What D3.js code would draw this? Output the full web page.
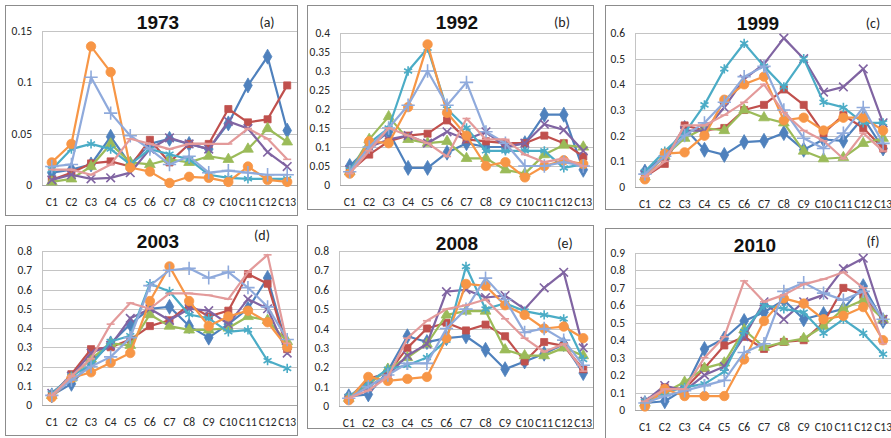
<!DOCTYPE html>
<html>
<head>
<meta charset="utf-8">
<script src="https://cdn.jsdelivr.net/npm/d3@7"></script>
<style>
  body { margin: 0; background: #fff; }
  svg { display: block; }
</style>
</head>
<body>
<svg id="chart" width="891" height="438"></svg>
<script>
// categories and panel labels
var cats = ["C1","C2","C3","C4","C5","C6","C7","C8","C9","C10","C11","C12","C13"];
var years = ["1973","1992","1999","2003","2008","2010"];
var letters = ["(a)","(b)","(c)","(d)","(e)","(f)"];
var yMax = [0.15, 0.4, 0.6, 0.8, 0.8, 0.9];
var yStep = [0.05, 0.05, 0.1, 0.1, 0.1, 0.1];

// series look (excel 2007 defaults)
var colors = ["#4F81BD","#C0504D","#9BBB59","#8064A2","#4BACC6","#F79646","#8FAADC","#E39A9A"];
var markers = ["diamond","square","triangle","x","asterisk","circle","plus","dash"];

// values, one row per series
var v1973 = [
  [0.012,0.015,0.02,0.047,0.02,0.04,0.045,0.04,0.035,0.06,0.097,0.125,0.053],
  [0.005,0.012,0.021,0.023,0.018,0.044,0.022,0.04,0.04,0.074,0.061,0.064,0.097],
  [0.003,0.006,0.018,0.04,0.022,0.02,0.025,0.022,0.028,0.025,0.035,0.055,0.042],
  [0.005,0.01,0.006,0.007,0.012,0.035,0.046,0.04,0.035,0.062,0.055,0.032,0.018],
  [0.015,0.035,0.04,0.035,0.02,0.035,0.03,0.025,0.01,0.007,0.006,0.006,0.006],
  [0.022,0.04,0.135,0.11,0.017,0.013,0.002,0.008,0.007,0.003,0.018,0.005,0.003],
  [0.018,0.02,0.105,0.07,0.048,0.035,0.02,0.028,0.012,0.014,0.012,0.01,0.01],
  [0.015,0.015,0.01,0.02,0.045,0.04,0.035,0.04,0.04,0.04,0.055,0.045,0.025]
];
var v1992 = [
  [0.05,0.1,0.14,0.045,0.045,0.085,0.11,0.1,0.1,0.11,0.185,0.185,0.04],
  [0.035,0.08,0.115,0.13,0.135,0.17,0.12,0.115,0.11,0.11,0.13,0.11,0.075],
  [0.035,0.12,0.18,0.12,0.11,0.115,0.07,0.07,0.04,0.03,0.08,0.105,0.1],
  [0.04,0.1,0.12,0.13,0.11,0.14,0.12,0.14,0.1,0.11,0.16,0.145,0.09],
  [0.04,0.11,0.15,0.3,0.36,0.2,0.15,0.09,0.09,0.09,0.09,0.045,0.055],
  [0.03,0.115,0.11,0.205,0.37,0.19,0.13,0.05,0.06,0.02,0.05,0.065,0.055],
  [0.035,0.1,0.15,0.21,0.3,0.21,0.27,0.14,0.11,0.05,0.05,0.06,0.05],
  [0.03,0.09,0.15,0.13,0.11,0.075,0.175,0.12,0.12,0.08,0.06,0.07,0.05]
];
var v1999 = [
  [0.06,0.12,0.23,0.145,0.125,0.175,0.18,0.21,0.145,0.185,0.18,0.27,0.15],
  [0.04,0.09,0.24,0.22,0.23,0.3,0.32,0.38,0.32,0.21,0.28,0.23,0.15],
  [0.04,0.12,0.19,0.23,0.22,0.3,0.27,0.25,0.14,0.11,0.115,0.17,0.19],
  [0.05,0.12,0.22,0.22,0.31,0.42,0.48,0.58,0.5,0.37,0.39,0.46,0.25],
  [0.06,0.14,0.21,0.32,0.46,0.56,0.47,0.39,0.5,0.33,0.31,0.25,0.25],
  [0.03,0.13,0.135,0.2,0.34,0.4,0.43,0.26,0.27,0.22,0.27,0.27,0.22],
  [0.05,0.12,0.2,0.25,0.33,0.43,0.47,0.3,0.19,0.15,0.21,0.31,0.17],
  [0.04,0.1,0.24,0.24,0.28,0.33,0.4,0.29,0.22,0.18,0.11,0.21,0.14]
];
var v2003 = [
  [0.05,0.11,0.22,0.32,0.42,0.5,0.51,0.41,0.35,0.42,0.5,0.66,0.3],
  [0.05,0.16,0.29,0.3,0.34,0.41,0.44,0.52,0.46,0.49,0.68,0.63,0.29],
  [0.05,0.14,0.24,0.32,0.31,0.47,0.41,0.39,0.39,0.4,0.46,0.44,0.33],
  [0.06,0.15,0.27,0.31,0.45,0.5,0.44,0.5,0.49,0.42,0.55,0.5,0.27],
  [0.06,0.15,0.21,0.33,0.36,0.63,0.59,0.47,0.45,0.38,0.39,0.23,0.19],
  [0.04,0.14,0.17,0.22,0.27,0.54,0.72,0.54,0.41,0.46,0.49,0.43,0.3],
  [0.05,0.13,0.2,0.25,0.35,0.62,0.7,0.71,0.66,0.69,0.61,0.51,0.34],
  [0.05,0.15,0.24,0.42,0.53,0.5,0.58,0.58,0.57,0.55,0.69,0.78,0.32]
];
var v2008 = [
  [0.05,0.06,0.18,0.36,0.33,0.35,0.36,0.29,0.19,0.23,0.27,0.32,0.17],
  [0.04,0.14,0.17,0.3,0.4,0.43,0.39,0.42,0.36,0.23,0.33,0.31,0.19],
  [0.04,0.11,0.19,0.25,0.32,0.47,0.49,0.49,0.29,0.26,0.26,0.3,0.26],
  [0.04,0.1,0.16,0.26,0.32,0.59,0.6,0.56,0.57,0.5,0.61,0.69,0.3],
  [0.05,0.12,0.19,0.21,0.25,0.34,0.72,0.5,0.53,0.49,0.47,0.45,0.24],
  [0.03,0.15,0.13,0.14,0.15,0.35,0.63,0.62,0.52,0.47,0.4,0.41,0.35],
  [0.04,0.1,0.16,0.22,0.22,0.4,0.5,0.66,0.55,0.38,0.4,0.34,0.21],
  [0.04,0.08,0.15,0.35,0.44,0.5,0.52,0.55,0.45,0.35,0.28,0.32,0.18]
];
var v2010 = [
  [0.04,0.05,0.12,0.35,0.41,0.51,0.56,0.63,0.52,0.55,0.58,0.71,0.51],
  [0.04,0.13,0.12,0.24,0.37,0.42,0.35,0.39,0.4,0.5,0.7,0.66,0.52],
  [0.04,0.1,0.16,0.24,0.27,0.46,0.36,0.39,0.41,0.48,0.58,0.63,0.52],
  [0.05,0.14,0.11,0.2,0.25,0.42,0.62,0.52,0.62,0.66,0.81,0.87,0.52],
  [0.05,0.1,0.13,0.15,0.22,0.45,0.6,0.58,0.56,0.44,0.52,0.44,0.32],
  [0.02,0.12,0.08,0.08,0.08,0.29,0.51,0.64,0.61,0.52,0.54,0.59,0.4],
  [0.04,0.08,0.11,0.14,0.17,0.33,0.38,0.68,0.73,0.67,0.63,0.68,0.52],
  [0.05,0.12,0.12,0.3,0.42,0.74,0.62,0.66,0.72,0.75,0.79,0.7,0.38]
];
var allValues = [v1973, v1992, v1999, v2003, v2008, v2010];

// where each panel sits on the page
var layout = [
  {box:[5,5,292,210],   plot:[42,31,297,185],   title:[158,29],  tag:[267,27]},
  {box:[307,5,286,204], plot:[340,33,593,185],  title:[457,29],  tag:[562,27]},
  {box:[605,5,300,204], plot:[635,33,893,187],  title:[758,30],  tag:[873,28]},
  {box:[5,225,292,210], plot:[42,251,297,405],  title:[158,248], tag:[262,240]},
  {box:[307,225,286,203], plot:[339,251,593,406], title:[457,250], tag:[565,248]},
  {box:[605,228,300,220], plot:[635,253,893,410], title:[755,252], tag:[873,246]}
];

var svg = d3.select("#chart");
var font = "Carlito, Lato, 'Open Sans', sans-serif";

function markerPath(kind) {
  var map = {
    diamond: [d3.symbolDiamond, 65],
    square: [d3.symbolSquare, 50],
    triangle: [d3.symbolTriangle, 50],
    x: [d3.symbolTimes, 50],
    asterisk: [d3.symbolAsterisk, 60],
    circle: [d3.symbolCircle, 70],
    plus: [d3.symbolPlus, 60]
  };
  if (kind == "dash") return "M-4,0H4";
  return d3.symbol().type(map[kind][0]).size(map[kind][1])();
}

years.forEach(function(year, p) {
  var L = layout[p];
  var g = svg.append("g");

  // panel frame
  g.append("rect")
    .attr("x", L.box[0] + 0.5).attr("y", L.box[1] + 0.5)
    .attr("width", L.box[2]).attr("height", L.box[3])
    .attr("fill", "#fff").attr("stroke", "#8c8c8c");

  var x = d3.scaleBand().domain(cats).range([L.plot[0], L.plot[2]]);
  var y = d3.scaleLinear().domain([0, yMax[p]]).range([L.plot[3], L.plot[1]]);
  var ticks = d3.range(0, yMax[p] + yStep[p] / 2, yStep[p]);

  // grid
  g.selectAll(".grid").data(ticks).enter().append("line")
    .attr("x1", L.plot[0]).attr("x2", L.plot[2])
    .attr("y1", function(d) { return Math.round(y(d)) + 0.5; })
    .attr("y2", function(d) { return Math.round(y(d)) + 0.5; })
    .attr("stroke", function(d) { return d == 0 ? "#a6a6a6" : "#c4c4c4"; })
    .attr("stroke-width", 1);
  g.append("line")
    .attr("x1", L.plot[0] + 0.5).attr("x2", L.plot[0] + 0.5)
    .attr("y1", L.plot[1]).attr("y2", L.plot[3])
    .attr("stroke", "#c4c4c4");

  // y labels
  g.selectAll(".ylab").data(ticks).enter().append("text")
    .attr("x", L.plot[0] - 10)
    .attr("y", function(d) { return y(d) + 4; })
    .attr("text-anchor", "end")
    .attr("font-family", font).attr("font-size", 11.5).attr("fill", "#262626")
    .text(function(d) { return String(+d.toFixed(2)); });

  // x labels
  g.selectAll(".xlab").data(cats).enter().append("text")
    .attr("x", function(d) { return x(d) + x.bandwidth() / 2; })
    .attr("y", L.plot[3] + 21)
    .attr("text-anchor", "middle")
    .attr("font-family", font).attr("font-size", 11.5).attr("fill", "#262626")
    .text(function(d) { return d; });

  // titles
  g.append("text")
    .attr("x", L.title[0]).attr("y", L.title[1])
    .attr("text-anchor", "middle")
    .attr("font-family", "'Liberation Sans', Arial, sans-serif")
    .attr("font-weight", "bold").attr("font-size", 19).attr("fill", "#111")
    .text(year);
  g.append("text")
    .attr("x", L.tag[0]).attr("y", L.tag[1])
    .attr("text-anchor", "middle")
    .attr("font-family", font).attr("font-size", 14).attr("fill", "#222")
    .text(letters[p]);

  var line = d3.line()
    .x(function(d, i) { return x(cats[i]) + x.bandwidth() / 2; })
    .y(function(d) { return y(d); });

  allValues[p].forEach(function(vals, s) {
    var sg = g.append("g");
    sg.append("path")
      .attr("d", line(vals))
      .attr("fill", "none")
      .attr("stroke", colors[s]).attr("stroke-width", 2.2)
      .attr("stroke-linejoin", "round");
    var stroked = ["x","asterisk","plus","dash"].indexOf(markers[s]) >= 0;
    sg.selectAll("path.m").data(vals).enter().append("path")
      .attr("class", "m")
      .attr("d", markerPath(markers[s]))
      .attr("transform", function(d, i) {
        return "translate(" + (x(cats[i]) + x.bandwidth() / 2) + "," + y(d) + ")";
      })
      .attr("fill", stroked ? "none" : colors[s])
      .attr("stroke", colors[s])
      .attr("stroke-width", stroked ? 1.6 : 0.8);
  });
});
</script>
</body>
</html>
